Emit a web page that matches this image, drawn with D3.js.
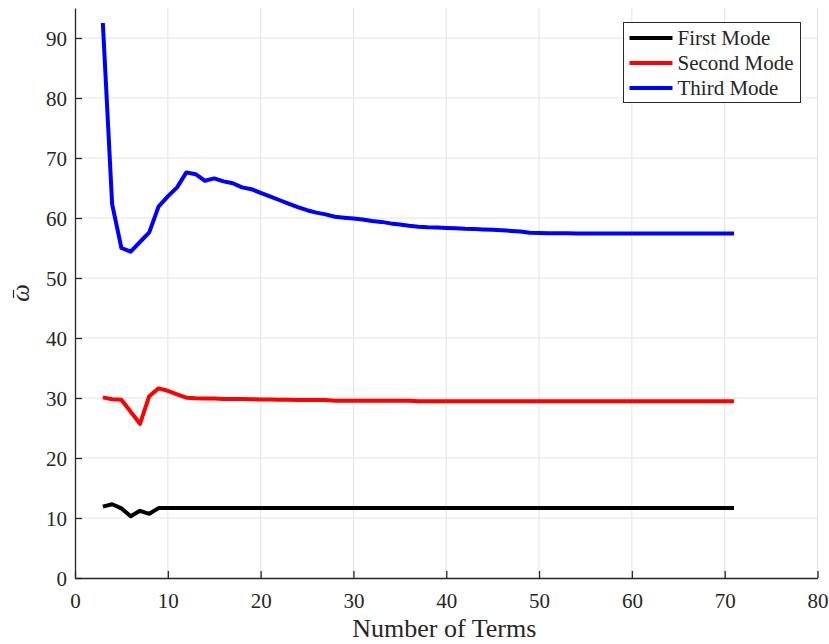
<!DOCTYPE html>
<html>
<head>
<meta charset="utf-8">
<script src="https://cdn.jsdelivr.net/npm/d3@7"></script>
<style>
  body { margin: 0; background: #fff; }
  text { font-family: "Liberation Serif", "Times New Roman", serif; fill: #262626; }
</style>
</head>
<body>
<div id="chart"></div>
<script>
const terms = d3.range(3, 72);

const firstMode = [11.9, 12.3, 11.6, 10.3, 11.2, 10.7, 11.65, 11.65, 11.65, 11.65, 11.65, 11.65, 11.65, 11.65,
  11.65, 11.65, 11.65, 11.65, 11.65, 11.65, 11.65, 11.65, 11.65, 11.65, 11.65, 11.65, 11.65, 11.65, 11.65, 11.65,
  11.65, 11.65, 11.65, 11.65, 11.65, 11.65, 11.65, 11.65, 11.65, 11.65, 11.65, 11.65, 11.65, 11.65, 11.65, 11.65,
  11.65, 11.65, 11.65, 11.65, 11.65, 11.65, 11.65, 11.65, 11.65, 11.65, 11.65, 11.65, 11.65, 11.65, 11.65, 11.65,
  11.65, 11.65, 11.65, 11.65, 11.65, 11.65, 11.65];

const secondMode = [30.1, 29.8, 29.7, 27.7, 25.7, 30.3, 31.6, 31.2, 30.6, 30.05, 29.95, 29.9, 29.9, 29.85,
  29.85, 29.85, 29.8, 29.75, 29.75, 29.7, 29.7, 29.65, 29.65, 29.65, 29.65, 29.55, 29.55, 29.55, 29.55, 29.55,
  29.55, 29.55, 29.55, 29.55, 29.45, 29.45, 29.45, 29.45, 29.45, 29.45, 29.45, 29.45, 29.45, 29.45, 29.45, 29.45,
  29.45, 29.45, 29.45, 29.45, 29.45, 29.45, 29.45, 29.45, 29.45, 29.45, 29.45, 29.45, 29.45, 29.45, 29.45, 29.45,
  29.45, 29.45, 29.45, 29.45, 29.45, 29.45, 29.45];

const thirdMode = [92.5, 62.3, 55.0, 54.4, 56.0, 57.6, 61.9, 63.6, 65.1, 67.6, 67.3, 66.2, 66.6, 66.1,
  65.8, 65.1, 64.8, 64.2, 63.6, 63.0, 62.4, 61.8, 61.3, 60.9, 60.6, 60.2, 60.05, 59.9, 59.75, 59.5,
  59.35, 59.1, 58.9, 58.7, 58.55, 58.45, 58.4, 58.35, 58.3, 58.2, 58.15, 58.1, 58.05, 57.95, 57.85, 57.75,
  57.55, 57.5, 57.45, 57.45, 57.45, 57.4, 57.4, 57.4, 57.4, 57.4, 57.4, 57.4, 57.4, 57.4, 57.4, 57.4,
  57.4, 57.4, 57.4, 57.4, 57.4, 57.4, 57.4];

const seriesNames = ["First Mode", "Second Mode", "Third Mode"];
const seriesColors = ["#000000", "#ff0000", "#0000ff"];
const xTicks = [0, 10, 20, 30, 40, 50, 60, 70, 80];
const yTicks = [0, 10, 20, 30, 40, 50, 60, 70, 80, 90];

const W = 829, H = 644;
const margin = { top: 8, right: 11.5, bottom: 66, left: 75 };
const width = W - margin.left - margin.right;
const height = H - margin.top - margin.bottom;
const serif = '"Liberation Serif", "Times New Roman", serif';

const svg = d3.select("#chart").append("svg")
  .attr("width", W)
  .attr("height", H);

const g = svg.append("g")
  .attr("transform", `translate(${margin.left},${margin.top})`);

const x = d3.scaleLinear().domain([0, 80]).range([0, width]);
const y = d3.scaleLinear().domain([0, 95]).range([height, 0]);

// grid
g.append("g").selectAll("line").data(xTicks.slice(1)).enter().append("line")
  .attr("x1", d => x(d)).attr("x2", d => x(d))
  .attr("y1", 0).attr("y2", height)
  .attr("stroke", "#e3e3e3").attr("stroke-width", 1);
g.append("g").selectAll("line").data(yTicks.slice(1)).enter().append("line")
  .attr("x1", 0).attr("x2", width)
  .attr("y1", d => y(d)).attr("y2", d => y(d))
  .attr("stroke", "#e3e3e3").attr("stroke-width", 1);

// axes, ticks inward
const xAxis = g.append("g")
  .attr("transform", `translate(0,${height})`)
  .call(d3.axisBottom(x).tickValues(xTicks).tickSizeInner(-7).tickSizeOuter(0));
const yAxis = g.append("g")
  .call(d3.axisLeft(y).tickValues(yTicks).tickSizeInner(-7).tickSizeOuter(0));

[xAxis, yAxis].forEach(a => {
  a.attr("font-family", serif).attr("font-size", 21);
  a.select(".domain").attr("stroke", "#262626").attr("stroke-width", 1.3);
  a.selectAll(".tick line").attr("stroke", "#262626").attr("stroke-width", 1.3);
  a.selectAll(".tick text")
    .style("font-family", serif)
    .style("font-size", "21px")
    .attr("fill", "#262626");
});
xAxis.selectAll(".tick text").attr("y", 29.5).attr("dy", null);
yAxis.selectAll(".tick text").attr("x", -8).attr("dy", "0.35em");

// lines
const allSeries = [firstMode, secondMode, thirdMode];
const line = d3.line()
  .x((d, i) => x(terms[i]))
  .y(d => y(d));

g.selectAll(".mode").data(allSeries).enter().append("path")
  .attr("class", "mode")
  .attr("d", d => line(d))
  .attr("fill", "none")
  .attr("stroke", (d, i) => seriesColors[i])
  .attr("stroke-width", 4)
  .attr("stroke-linejoin", "round");

// axis labels
svg.append("text")
  .attr("x", margin.left + width / 2 - 2)
  .attr("y", 637)
  .attr("text-anchor", "middle")
  .style("font-size", "26px")
  .text("Number of Terms");

const yLab = svg.append("g")
  .attr("transform", "translate(29,293) rotate(-90)");
yLab.append("text")
  .attr("text-anchor", "middle")
  .style("font-size", "25px")
  .style("font-style", "italic")
  .text("ω");
yLab.append("line")
  .attr("x1", -5).attr("x2", 3)
  .attr("y1", -15.5).attr("y2", -15.5)
  .attr("stroke", "#262626")
  .attr("stroke-width", 1.2);

// legend
const legend = svg.append("g").attr("transform", "translate(623.5,22.5)");
legend.append("rect")
  .attr("width", 177)
  .attr("height", 80)
  .attr("fill", "#fff")
  .attr("stroke", "#262626")
  .attr("stroke-width", 1);

const rows = legend.selectAll(".row").data(seriesNames).enter().append("g")
  .attr("transform", (d, i) => `translate(0,${15.5 + i * 25})`);
rows.append("line")
  .attr("x1", 6).attr("x2", 49)
  .attr("stroke", (d, i) => seriesColors[i])
  .attr("stroke-width", 4);
rows.append("text")
  .attr("x", 54)
  .attr("dy", "0.35em")
  .style("font-size", "21px")
  .attr("fill", "#000")
  .text(d => d);
</script>
</body>
</html>
